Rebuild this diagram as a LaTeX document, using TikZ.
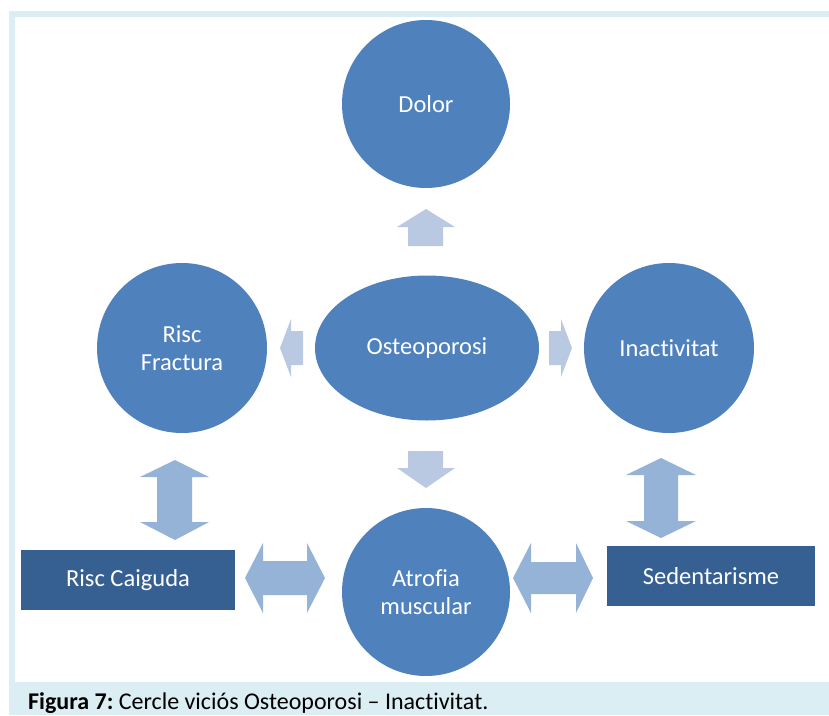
\documentclass[tikz,border=0pt]{standalone}
\usepackage{fontspec}
\setmainfont{Carlito}[Ligatures={NoCommon}]
\usetikzlibrary{shapes.geometric}
\definecolor{framebg}{HTML}{DAEEF3}
\definecolor{circfill}{HTML}{4F81BD}
\definecolor{boxfill}{HTML}{376092}
\definecolor{arrowlight}{HTML}{B9C9E2}
\definecolor{arrowdbl}{HTML}{95B3D7}
\tikzset{
  labelfont/.style={font=\fontsize{24.5}{28}\selectfont},
  circ/.style={circle, fill=circfill, draw=none, inner sep=0pt, text=white,
    align=center, labelfont},
  ovalnode/.style={ellipse, fill=circfill, draw=none, inner sep=0pt, text=white,
    align=center, labelfont},
  boxnode/.style={rectangle, fill=boxfill, draw=none, inner sep=0pt, text=white,
    align=center, labelfont},
  onearrow/.style={fill=arrowlight, draw=none},
  twoarrow/.style={fill=arrowdbl, draw=none},
}
\begin{document}
\begin{tikzpicture}[x=1pt, y=-1pt]
  \useasboundingbox (0,0) rectangle (829,715);
  % frame and caption band
  \fill[framebg] (9,11) rectangle (829,715);
  \fill[white] (15,17) rectangle (829,682);
  \node[anchor=base west, inner sep=0pt, font=\fontsize{24}{28}\selectfont] (caption) at (28,709)
    {\textbf{Figura 7:}~Cercle viciós Osteoporosi – Inactivitat.};

  % circles and central oval
  \node[circ, minimum size=168pt] (dolor) at (426,104) {Dolor};
  \node[circ, minimum size=170pt] (fractura) at (182,348) {Risc\\Fractura};
  \node[ovalnode, minimum width=224pt, minimum height=145pt] (osteo) at (427,348) {Osteoporosi};
  \node[circ, minimum size=170pt] (inact) at (669,348) {Inactivitat};
  \node[circ, minimum size=168pt] (atrofia) at (426,592) {Atrofia\\muscular};

  % rectangles
  \node[boxnode, minimum width=214pt, minimum height=60pt] (caiguda) at (128,580) {Risc Caiguda};
  \node[boxnode, minimum width=208pt, minimum height=60pt] (sedent) at (711,576) {Sedentarisme};

  % single arrows out of the oval
  \fill[onearrow] (408,246) -- (408,227) -- (397,227) -- (426,209) -- (455,227) -- (443,227) -- (443,246) -- cycle;
  \fill[onearrow] (408,451) -- (408,468) -- (397,468) -- (426,488) -- (455,468) -- (443,468) -- (443,451) -- cycle;
  \fill[onearrow] (303,331) -- (291,331) -- (291,319) -- (280,348) -- (291,377) -- (291,365) -- (303,365) -- cycle;
  \fill[onearrow] (549,331) -- (561,331) -- (561,319) -- (572,348) -- (561,377) -- (561,365) -- (549,365) -- cycle;

  % double arrows
  \fill[twoarrow] (175,460) -- (209,477) -- (192,477) -- (192,522) -- (209,522) -- (175,540)
    -- (140,522) -- (157,522) -- (157,477) -- (140,477) -- cycle;
  \fill[twoarrow] (661,458) -- (696,475) -- (678,475) -- (678,521) -- (696,521) -- (661,538)
    -- (626,521) -- (644,521) -- (644,475) -- (626,475) -- cycle;
  \fill[twoarrow] (245,578) -- (263,543) -- (263,561) -- (307,561) -- (307,543) -- (325,578)
    -- (307,613) -- (307,595) -- (263,595) -- (263,613) -- cycle;
  \fill[twoarrow] (513,578) -- (531,543) -- (531,562) -- (576,562) -- (576,543) -- (593,578)
    -- (576,613) -- (576,594) -- (531,594) -- (531,613) -- cycle;
\end{tikzpicture}
\end{document}
